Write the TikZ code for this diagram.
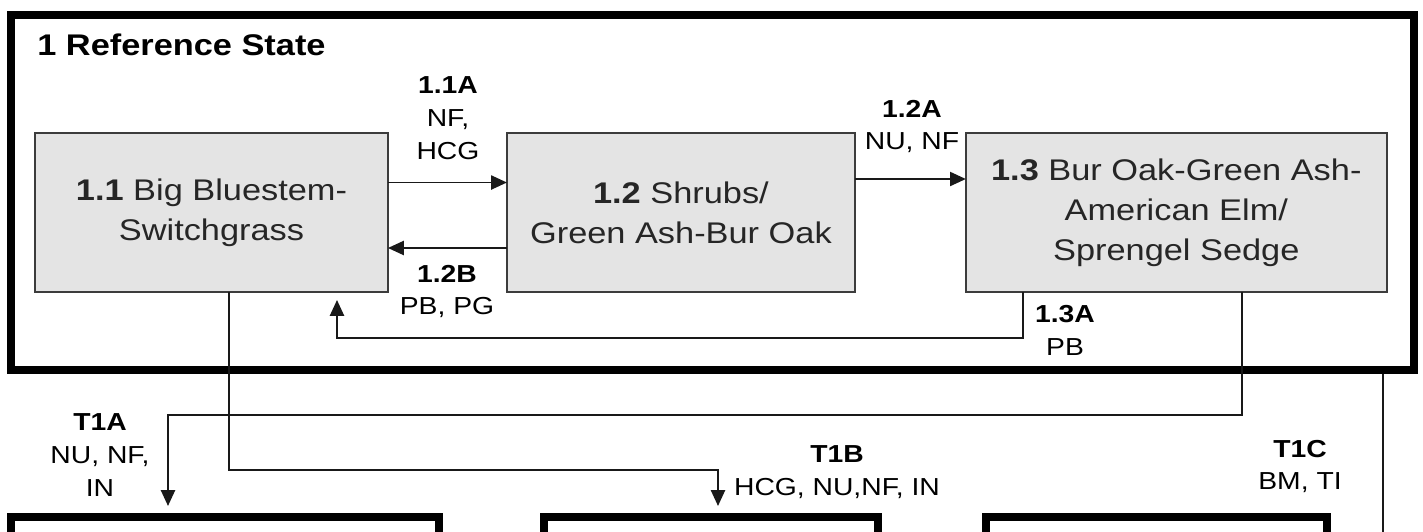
\documentclass[tikz,border=0pt]{standalone}
\usepackage{fontspec}
\setmainfont{Liberation Sans}[FakeStretch=1.15]
\definecolor{BoxGray}{HTML}{E4E4E4}
\definecolor{EdgeGray}{HTML}{3C3C3C}
\definecolor{InkGray}{HTML}{262626}
\usetikzlibrary{arrows.meta, positioning}
\tikzset{
  commbox/.style={draw=EdgeGray, line width=0.9pt, fill=BoxGray, outer sep=0pt, align=center, minimum height=3.18cm, inner sep=2pt, text=InkGray, font=\fontsize{17pt}{22.7pt}\selectfont},
  statebox/.style={draw=black, line width=4.6pt, minimum height=2.4cm},
  lbl/.style={align=center, inner sep=0pt, font=\fontsize{14pt}{18.7pt}\selectfont},
  arr/.style={-{Triangle[length=9pt,width=8pt]}, line width=1.1pt, draw=black!90},
  link/.style={line width=1.1pt, draw=black!90}
}

\begin{document}
\begin{tikzpicture}[x=0.02cm, y=-0.02cm]
\useasboundingbox (0,0) rectangle (1423,531);
\clip (0,0) rectangle (1423,531);
% reference state frame
\node[draw=black, line width=4.6pt, minimum width=28.06cm, minimum height=7.1cm] (ref) at (712.5,192.5) {};
\node[anchor=west, inner sep=0pt, font=\fontsize{17pt}{20pt}\selectfont\bfseries] (title) at (37,45) {1 Reference State};
% community phases
\node[commbox, minimum width=7.06cm] (b11) at (211.5,212.5) {\textbf{1.1} Big Bluestem-\\Switchgrass};
\node[commbox, minimum width=6.96cm, right=2.38cm of b11] (b12) {\textbf{1.2} Shrubs/\\Green Ash-Bur Oak};
\node[commbox, minimum width=8.42cm, right=2.22cm of b12] (b13) {\textbf{1.3} Bur Oak-Green Ash-\\American Elm/\\Sprengel Sedge};
% other states (cut off)
\node[statebox, minimum width=8.56cm] (s2) at (225,577) {};
\node[statebox, minimum width=6.68cm] (s3) at (711,577) {};
\node[statebox, minimum width=6.82cm] (s4) at (1156.5,577) {};
\coordinate (s5) at (1383,560);
% pathways
\draw[arr] ([yshift=0.6cm]b11.east) -- ([yshift=0.6cm]b12.west);
\draw[arr] ([yshift=-0.71cm]b12.west) -- ([yshift=-0.71cm]b11.east);
\draw[arr] ([yshift=0.67cm]b12.east) -- ([yshift=0.67cm]b13.west);
\draw[arr, shorten >=0.16cm] (b13.south -| 1023,0) |- (337,338) -- (b11.south -| 337,0);
% transitions
\draw[arr, shorten >=0.14cm] (b13.south -| 1242,0) |- (168,415) -- (s2.north -| 168,0);
\draw[arr, shorten >=0.14cm] (b11.south -| 229,0) |- (718,470) -- (s3.north -| 718,0);
\draw[link] (ref.south -| 1383,0) -- (s5);
% labels
\node[lbl] (l11a) at (448,118) {\textbf{1.1A}\\NF,\\HCG};
\node[lbl] (l12a) at (912,126.5) {\textbf{1.2A}\\NU, NF};
\node[lbl] (l12b) at (447,291.5) {\textbf{1.2B}\\PB, PG};
\node[lbl] (l13a) at (1065,330.5) {\textbf{1.3A}\\PB};
\node[lbl] (t1a) at (100,455) {\textbf{T1A}\\NU, NF,\\IN};
\node[lbl] (t1b) at (837,472) {\textbf{T1B}\\HCG, NU,NF, IN};
\node[lbl] (t1c) at (1300,466.5) {\textbf{T1C}\\BM, TI};
\end{tikzpicture}
\end{document}
